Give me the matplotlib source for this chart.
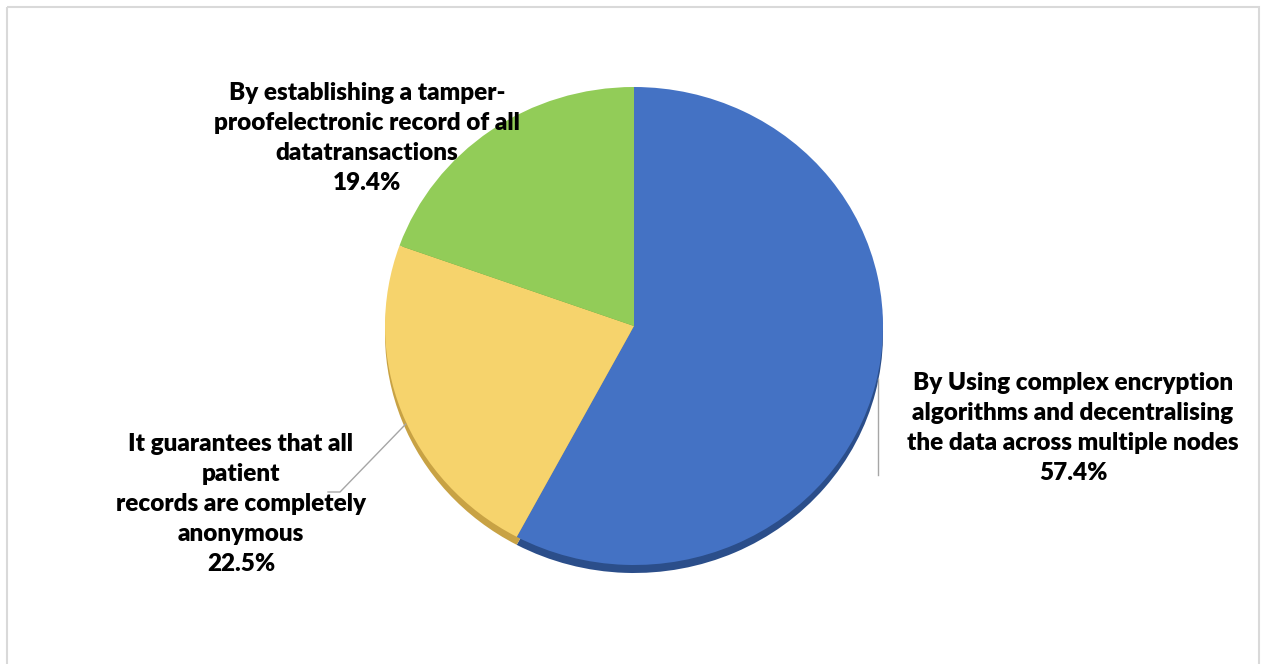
import numpy as np
import matplotlib.pyplot as plt
from matplotlib.patches import Rectangle

# Survey answers: how blockchain protects patient data
answers = [
    "By Using complex encryption\nalgorithms and decentralising\nthe data across multiple nodes",
    "It guarantees that all\npatient\nrecords are completely\nanonymous",
    "By establishing a tamper-\nproofelectronic record of all\ndatatransactions",
]
shares = [57.4, 22.5, 19.4]
face_colors = ["#4472C4", "#F6D36C", "#92CC58"]
rim_colors = ["#2B4E8A", "#C8A244", "#6B9B3A"]

W, H = 1261, 664
fig = plt.figure(figsize=(W / 100, H / 100), dpi=100)
fig.patch.set_facecolor("white")

# overlay axes in pixel units for labels, leader lines and the frame
over = fig.add_axes([0, 0, 1, 1], zorder=3)
over.set_xlim(0, W)
over.set_ylim(H, 0)
over.axis("off")

# pie placed as a slightly flattened disc
cx, cy, rx, ry = 634, 326, 249, 239
pie_ax = fig.add_axes([(cx - rx) / W, (H - cy - ry) / H, 2 * rx / W, 2 * ry / H], zorder=1)

# thickness of the disc, seen below the face
pie_ax.pie(shares, colors=rim_colors, startangle=90, counterclock=False,
           center=(0, -8 / ry), radius=1.0, wedgeprops=dict(linewidth=0))
pie_ax.pie(shares, colors=face_colors, startangle=90, counterclock=False,
           radius=1.0, wedgeprops=dict(linewidth=0))
pie_ax.set_xlim(-1, 1)
pie_ax.set_ylim(-1, 1)
pie_ax.set_aspect("auto")
pie_ax.axis("off")

# mid-angle of every wedge, for the leader lines
total = sum(shares)
ends = 90 - np.cumsum(shares) / total * 360
starts = np.concatenate([[90], ends[:-1]])
mids = np.deg2rad((starts + ends) / 2)
edge_x = cx + rx * np.cos(mids)
edge_y = cy - ry * np.sin(mids)

font = dict(family=["Lato", "DejaVu Sans"], fontsize=17.5, fontweight="heavy",
            color="black", ha="center", va="center", multialignment="center",
            linespacing=1.45)

labels = [f"{a}\n{v:.1f}%" for a, v in zip(answers, shares)]
label_pos = [(1073, 428), (241, 504), (367, 138)]
for lab, (lx, ly) in zip(labels, label_pos):
    over.text(lx, ly, lab, **font)

# leader lines
over.plot([edge_x[0] + 2, edge_x[0] + 2], [edge_y[0] - 5, 475],
          color="#A6A6A6", lw=1.0)
over.plot([edge_x[1] + 4, 340, 328], [edge_y[1] + 12, 492, 492],
          color="#A6A6A6", lw=1.0)

# chart frame
over.add_patch(Rectangle((7, 7), 1252, 700, fill=False, edgecolor="#D9D9D9",
                         lw=1.5, clip_on=False))

fig.savefig("out.png", dpi=100, facecolor="white")
